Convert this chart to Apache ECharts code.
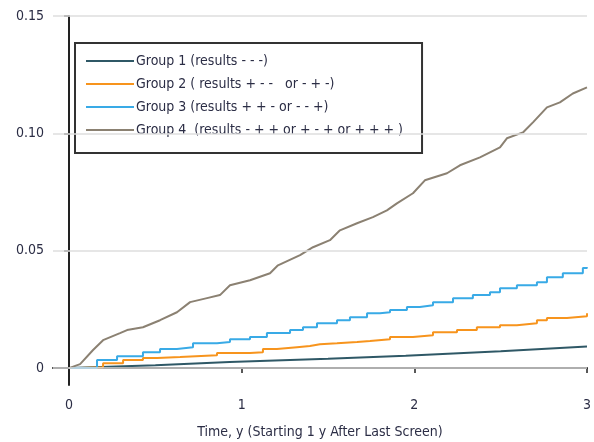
<!DOCTYPE html>
<html>
<head>
<meta charset="utf-8">
<script src="https://cdn.jsdelivr.net/npm/echarts@6/dist/echarts.min.js"></script>
<style>
  html, body { margin: 0; padding: 0; background: #fff; }
  #main { width: 594px; height: 442px; }
</style>
</head>
<body>
<div id="main"></div>
<script>
var chartDom = document.getElementById("main");
var myChart = echarts.init(chartDom);

// legend names
var groupNames = [
  "Group 1 (results - - -)",
  "Group 2 ( results + - -   or - + -)",
  "Group 3 (results + + - or - - +)",
  "Group 4  (results - + + or + - + or + + + )"
];

// values (time in years, cumulative incidence)
var g1X = [0, 0.5, 0.93, 1.5, 1.95, 2.5, 3.0];
var g1Y = [0, 0.0012, 0.0026, 0.0040, 0.0053, 0.0072, 0.0092];

var g2X = [0, 0.064, 0.197, 0.313, 0.428, 0.510, 0.643, 0.857, 1.048, 1.123, 1.204, 1.320, 1.395, 1.453,
  1.552, 1.668, 1.743, 1.859, 1.992, 2.108, 2.247, 2.362, 2.496, 2.594, 2.710, 2.768, 2.884, 3.0];
var g2Y = [0, 0.0004, 0.0021, 0.0034, 0.0043, 0.0047, 0.0055, 0.0064, 0.0068, 0.0081, 0.0089, 0.0094, 0.0102, 0.0106,
  0.0111, 0.0115, 0.0123, 0.0132, 0.0140, 0.0153, 0.0162, 0.0174, 0.0183, 0.0191, 0.0204, 0.0213, 0.0221, 0.0234];

var g3X = [0, 0.162, 0.278, 0.428, 0.527, 0.625, 0.718, 0.857, 0.932, 1.048, 1.146, 1.280, 1.355, 1.436, 1.552,
  1.627, 1.726, 1.801, 1.859, 1.957, 2.032, 2.108, 2.224, 2.339, 2.438, 2.496, 2.594, 2.710, 2.768, 2.860, 2.976, 3.0];
var g3Y = [0, 0.0034, 0.0051, 0.0068, 0.0081, 0.0089, 0.0106, 0.0111, 0.0123, 0.0132, 0.0149, 0.0162, 0.0174, 0.0191, 0.0204,
  0.0217, 0.0234, 0.0238, 0.0247, 0.0260, 0.0268, 0.0281, 0.0298, 0.0311, 0.0323, 0.0340, 0.0353, 0.0366, 0.0387, 0.0404, 0.0426, 0.0430];

var g4X = [0, 0.064, 0.139, 0.197, 0.295, 0.336, 0.428, 0.527, 0.625, 0.701, 0.799, 0.874, 0.932, 1.048, 1.164,
  1.210, 1.338, 1.413, 1.511, 1.569, 1.668, 1.760, 1.841, 1.899, 1.992, 2.061, 2.189, 2.264, 2.380, 2.496,
  2.536, 2.629, 2.687, 2.768, 2.843, 2.918, 3.0];
var g4Y = [0, 0.0017, 0.0077, 0.0119, 0.0149, 0.0162, 0.0174, 0.0204, 0.0238, 0.0281, 0.0298, 0.0311, 0.0353, 0.0374, 0.0404,
  0.0438, 0.0481, 0.0515, 0.0545, 0.0587, 0.0617, 0.0643, 0.0672, 0.0702, 0.0745, 0.0800, 0.0830, 0.0864, 0.0898, 0.0940,
  0.0979, 0.1004, 0.1047, 0.1111, 0.1132, 0.1170, 0.1196];

var xTicks = [0, 1, 2, 3];
var yTicks = [0, 0.05, 0.1, 0.15];

var colors = ["#2f5866", "#f7941d", "#39aae6", "#8b8172"];
var steps = [false, "end", "end", false];
var font = '"Liberation Sans Narrow", "DejaVu Sans Condensed", sans-serif';
var textColor = "#2b2d45";

function pairs(xs, ys) {
  return xs.map(function (x, i) { return [x, ys[i]]; });
}

var seriesData = [pairs(g1X, g1Y), pairs(g2X, g2Y), pairs(g3X, g3Y), pairs(g4X, g4Y)];

var series = [
  {
    // grid lines only
    type: "line",
    name: "grid",
    data: [],
    silent: true,
    markLine: {
      silent: true,
      symbol: "none",
      label: { show: false },
      lineStyle: { color: "#dedede", type: "solid", width: 1.5 },
      data: yTicks.map(function (v) { return { yAxis: v }; })
    }
  }
];
seriesData.forEach(function (d, i) {
  series.push({
    type: "line",
    name: groupNames[i],
    data: d,
    step: steps[i],
    symbol: "none",
    color: colors[i],
    lineStyle: { width: 2, color: colors[i] }
  });
});

var option = {
  animation: false,
  textStyle: { fontFamily: font },
  grid: { left: 53, right: 7, top: 16, bottom: 57, containLabel: false, outerBoundsMode: "none" },
  legend: {
    data: groupNames,
    orient: "vertical",
    left: 75,
    top: 43,
    icon: "rect",
    itemWidth: 48,
    itemHeight: 2,
    itemGap: 7,
    padding: [10, 19, 15, 11],
    borderColor: "#333",
    borderWidth: 2,
    backgroundColor: "#fff",
    textStyle: { fontFamily: font, fontSize: 14, lineHeight: 16, color: textColor, padding: [0, 0, 0, -3] }
  },
  xAxis: {
    type: "value",
    min: -0.093,
    max: 3,
    name: "Time, y (Starting 1 y After Last Screen)",
    nameLocation: "middle",
    nameGap: 40,
    nameTextStyle: { fontFamily: font, fontSize: 14, color: textColor },
    axisLine: { show: true, lineStyle: { color: "#222", width: 2 } },
    axisTick: { show: true, customValues: xTicks, length: 5, lineStyle: { color: "#222", width: 1.5 } },
    axisLabel: { customValues: xTicks, fontFamily: font, fontSize: 14, color: textColor, margin: 13 },
    splitLine: { show: false }
  },
  yAxis: {
    type: "value",
    min: -0.0072,
    max: 0.15,
    axisLine: { show: true, lineStyle: { color: "#222", width: 2 } },
    axisTick: { show: true, customValues: yTicks, length: 5, lineStyle: { color: "#222", width: 1.5 } },
    axisLabel: {
      customValues: yTicks,
      fontFamily: font,
      fontSize: 14,
      color: textColor,
      margin: 9,
      formatter: function (v) { return v === 0 ? "0" : v.toFixed(2); }
    },
    splitLine: { show: false }
  },
  series: series
};

myChart.setOption(option);
</script>
</body>
</html>
